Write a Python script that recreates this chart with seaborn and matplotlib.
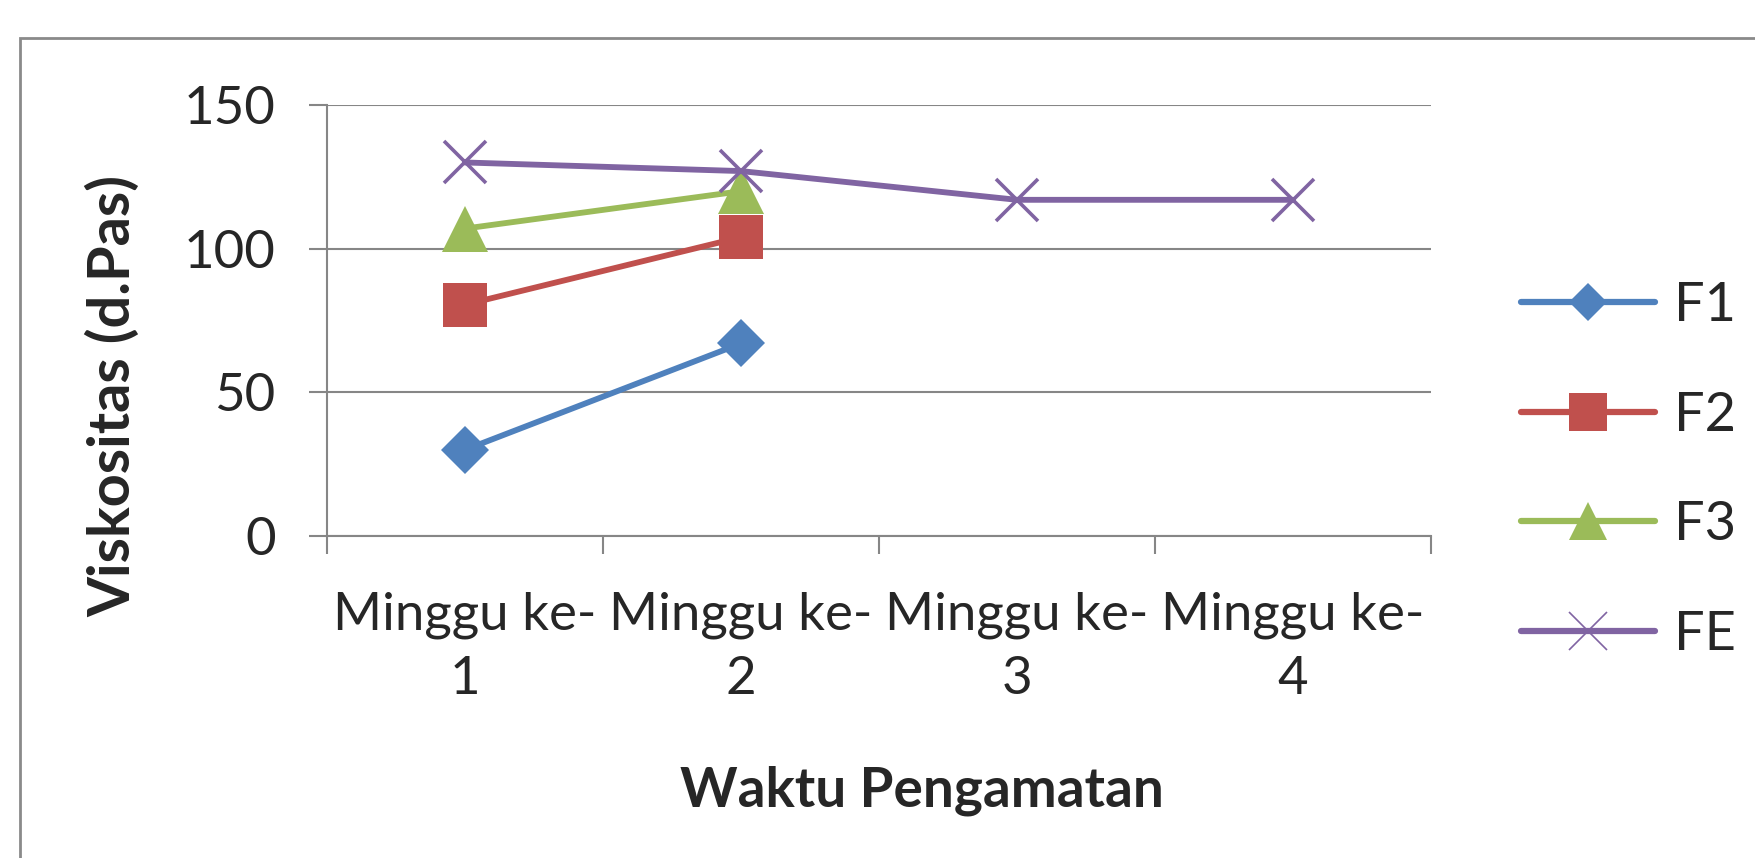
import numpy as np
import pandas as pd
import matplotlib
matplotlib.use("Agg")
import matplotlib.pyplot as plt
from matplotlib.lines import Line2D
from matplotlib.patches import Rectangle
import seaborn as sns

categories = ["Minggu ke-\n1", "Minggu ke-\n2", "Minggu ke-\n3", "Minggu ke-\n4"]
series_names = ["F1", "F2", "F3", "FE"]
f1 = [30, 67, np.nan, np.nan]
f2 = [80.5, 104, np.nan, np.nan]
f3 = [107, 120, np.nan, np.nan]
fe = [130, 127, 117, 117]
y_ticks = [0, 50, 100, 150]
x_label = "Waktu Pengamatan"
y_label = "Viskositas (d.Pas)"

colors = {"F1": "#4F81BD", "F2": "#C0504D", "F3": "#9BBB59", "FE": "#8064A2"}
markers = {"F1": "D", "F2": "s", "F3": "^", "FE": "x"}
msizes = {"F1": 24, "F2": 32, "F3": 33, "FE": 30}

sns.set_theme(style="white")
plt.rcParams["font.family"] = ["Lato", "DejaVu Sans"]

values = {"F1": f1, "F2": f2, "F3": f3, "FE": fe}
rows = []
for s in series_names:
    for i, v in enumerate(values[s]):
        rows.append({"pos": i, "val": v, "series": s})
df = pd.DataFrame(rows)

fig = plt.figure(figsize=(17.56, 8.58), dpi=100)
ax = fig.add_axes([327 / 1756, 1 - 536 / 858, (1431 - 327) / 1756, (536 - 105) / 858])

grid_c = "#868686"
for s in series_names:
    sub = df[df["series"] == s].dropna()
    sns.lineplot(data=sub, x="pos", y="val", ax=ax, color=colors[s], linewidth=4.2,
                 marker=markers[s], markersize=msizes[s],
                 markeredgewidth=(2.6 if s == "FE" else 0),
                 markeredgecolor=colors[s], legend=False, zorder=3)

ax.set_xlim(-0.5, len(categories) - 0.5)
ax.set_ylim(0, 150)
ax.set_yticks(y_ticks)
ax.set_yticklabels([str(t) for t in y_ticks], fontsize=38)
ax.yaxis.grid(True, color=grid_c, linewidth=1.5)
ax.xaxis.grid(False)
ax.set_xticks(np.arange(-0.5, len(categories), 1.0))
ax.set_xticklabels([])
ax.set_xticks(np.arange(len(categories)), minor=True)
ax.set_xticklabels(categories, minor=True, fontsize=38)
for lab in ax.get_xticklabels(minor=True):
    lab.set_linespacing(1.45)
ax.tick_params(axis="x", which="major", length=13, width=1.5, color=grid_c, direction="out", bottom=True)
ax.tick_params(axis="x", which="minor", length=0, pad=40, bottom=True)
ax.tick_params(axis="y", which="major", length=13, width=1.5, color=grid_c, direction="out", pad=24, left=True)
for side in ["top", "right"]:
    ax.spines[side].set_visible(False)
for side in ["left", "bottom"]:
    ax.spines[side].set_color(grid_c)
    ax.spines[side].set_linewidth(1.5)

ax.set_xlabel(x_label, fontsize=39.5, fontweight="bold")
ax.set_ylabel(y_label, fontsize=41.5, fontweight="bold")
ax.xaxis.set_label_coords((922 - 327) / (1431 - 327), -(765 - 536) / (536 - 105))
ax.yaxis.set_label_coords(-(327 - 140) / (1431 - 327), (536 - 396) / (536 - 105))

handles = []
for s in series_names:
    handles.append(Line2D([], [], color=colors[s], linewidth=4.5, marker=markers[s],
                          markersize={"F1": 19, "F2": 27, "F3": 27, "FE": 27}[s],
                          markeredgewidth=(1.2 if s == "FE" else 0), markeredgecolor=colors[s]))
fig.legend(handles, series_names, loc="center left", bbox_to_anchor=(1521 / 1756, 1 - 470 / 858),
           frameon=False, fontsize=39, handlelength=2.47, handletextpad=0.35, labelspacing=1.12,
           borderaxespad=0, borderpad=0)

fig.patches.append(Rectangle((20 / 1756, -0.1), 1.2, 1 - 38 / 858 + 0.1, transform=fig.transFigure,
                             fill=False, edgecolor="#8a8a8a", linewidth=2, zorder=0))

fig.savefig("out.png", dpi=100)
